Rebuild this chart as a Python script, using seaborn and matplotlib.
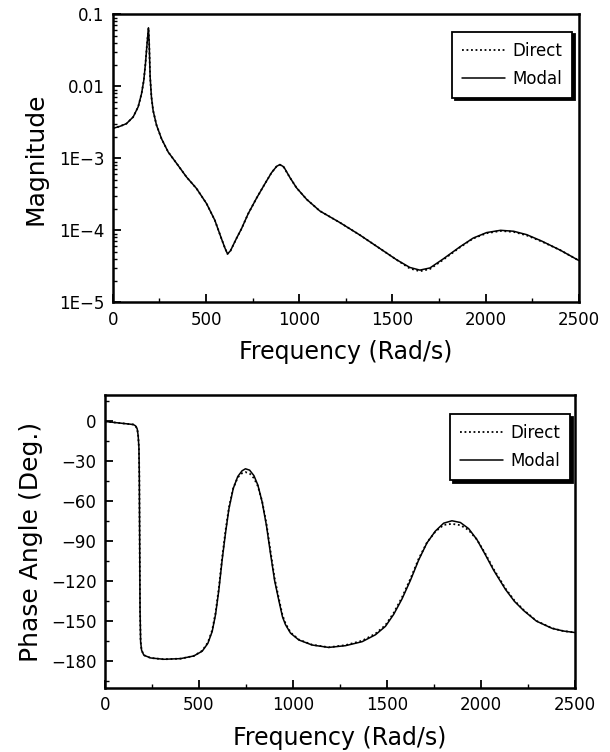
import numpy as np
import pandas as pd
import seaborn as sns
import matplotlib.pyplot as plt
from matplotlib.ticker import MultipleLocator, LogLocator, NullFormatter

# magnitude curve
mag_freq = [0, 38, 73, 109, 136, 154, 166, 175, 182, 191,
            195, 200, 207, 216, 234, 261, 297, 342, 395, 449,
            503, 547, 583, 601, 615, 631, 664, 690, 726, 771,
            815, 851, 878, 896, 917, 950, 985, 1039, 1111, 1218,
            1325, 1432, 1522, 1593, 1647, 1701, 1772, 1862, 1933, 2005,
            2080, 2150, 2220, 2300, 2400, 2500]
mag_modal = [2.6e-3, 2.78e-3, 3.03e-3, 3.75e-3, 5.2e-3, 7.9e-3, 1.21e-2, 2.07e-2, 3.5e-2, 6.5e-2,
             3.9e-2, 1.35e-2, 7.1e-3, 4.6e-3, 2.9e-3, 1.87e-3, 1.22e-3, 8.5e-4, 5.5e-4, 3.8e-4,
             2.34e-4, 1.38e-4, 7.6e-5, 5.7e-5, 4.7e-5, 5.2e-5, 7.8e-5, 1.05e-4, 1.7e-4, 2.8e-4,
             4.4e-4, 6.3e-4, 7.7e-4, 8.2e-4, 7.6e-4, 5.4e-4, 3.9e-4, 2.7e-4, 1.85e-4, 1.28e-4,
             8.6e-5, 5.6e-5, 3.9e-5, 3.05e-5, 2.8e-5, 3.0e-5, 4.0e-5, 5.9e-5, 7.8e-5, 9.3e-5,
             1.0e-4, 9.7e-5, 8.7e-5, 7.1e-5, 5.3e-5, 3.8e-5]
mag_direct = [2.6e-3, 2.78e-3, 3.03e-3, 3.75e-3, 5.2e-3, 7.9e-3, 1.21e-2, 2.07e-2, 3.5e-2, 6.5e-2,
              3.9e-2, 1.35e-2, 7.1e-3, 4.6e-3, 2.9e-3, 1.87e-3, 1.22e-3, 8.5e-4, 5.5e-4, 3.8e-4,
              2.34e-4, 1.38e-4, 7.6e-5, 5.7e-5, 4.7e-5, 5.2e-5, 7.8e-5, 1.05e-4, 1.7e-4, 2.8e-4,
              4.4e-4, 6.3e-4, 7.7e-4, 8.1e-4, 7.5e-4, 5.4e-4, 3.9e-4, 2.7e-4, 1.85e-4, 1.28e-4,
              8.6e-5, 5.6e-5, 3.9e-5, 2.95e-5, 2.7e-5, 2.9e-5, 3.9e-5, 5.8e-5, 7.7e-5, 9.1e-5,
              9.8e-5, 9.5e-5, 8.5e-5, 7.0e-5, 5.3e-5, 3.8e-5]

# phase curve
ph_freq = [0, 66, 119, 151, 163, 172, 177, 181, 183, 185,
           187, 190, 195, 207, 243, 314, 403, 473, 518, 548,
           571, 589, 606, 624, 642, 660, 683, 707, 730, 748,
           770, 793, 814, 837, 860, 881, 903, 926, 945, 961,
           988, 1032, 1103, 1191, 1280, 1369, 1440, 1493, 1537, 1581,
           1626, 1670, 1714, 1759, 1803, 1847, 1892, 1936, 1980, 2025,
           2069, 2132, 2180, 2230, 2297, 2380, 2440, 2500]
ph_modal = [0, -1.0, -1.8, -2.3, -3.3, -5.6, -10.7, -19.7, -40, -91,
            -142, -165, -171.5, -175.3, -177.4, -178.4, -177.9, -175.9, -172.3, -166.4,
            -157.5, -144.7, -126.9, -103.9, -83.5, -65.6, -50.3, -41.3, -37, -35.5,
            -36.5, -40.6, -47.7, -60.5, -78.3, -98.8, -119.2, -134.5, -146.5, -152.4,
            -158.8, -163.9, -167.7, -169.5, -168.2, -165.2, -160, -153.7, -144.7, -133.2,
            -119.2, -103.9, -91.1, -82.2, -76.3, -74.5, -75.8, -80.4, -88.6, -100,
            -111.6, -126, -135, -142, -149.8, -155.2, -157.2, -158.3]
ph_direct = [0, -1.0, -1.8, -2.3, -3.3, -5.6, -10.7, -19.7, -40, -91,
             -142, -165, -171.5, -175.3, -177.4, -178.4, -177.9, -175.9, -172.0, -165.8,
             -156.5, -143.3, -125.2, -102, -81.8, -64.5, -50, -42, -38.8, -38,
             -39, -42.5, -48.5, -60, -77, -97, -117.5, -133, -145.3, -151.5,
             -158.3, -163.6, -167.5, -169.4, -167.8, -164.5, -159.2, -152.8, -143.6, -132,
             -118, -103, -90.8, -82.6, -77.6, -76.8, -77.8, -81.5, -88.6, -99.2,
             -110.8, -125.3, -134.4, -141.6, -149.6, -155.1, -157.2, -158.3]

sns.set_style("white")
plt.rcParams['font.family'] = ['DejaVu Sans']
plt.rcParams['text.color'] = 'black'
plt.rcParams['axes.labelcolor'] = 'black'
plt.rcParams['xtick.color'] = 'black'
plt.rcParams['ytick.color'] = 'black'

fig = plt.figure(figsize=(6.1, 7.52), dpi=100)
ax1 = fig.add_axes([0.185, 0.598, 0.764, 0.383])
ax2 = fig.add_axes([0.172, 0.085, 0.770, 0.390])

# --- magnitude ---
sns.lineplot(x=mag_freq, y=mag_direct, ax=ax1, color='black', lw=1.3,
             linestyle=(0, (1, 1.5)), label='Direct', sort=True)
sns.lineplot(x=mag_freq, y=mag_modal, ax=ax1, color='black', lw=1.1,
             label='Modal', sort=True)
ax1.set_yscale('log')
ax1.set_xlim(0, 2500)
ax1.set_ylim(1e-5, 0.1)
ax1.set_yticks([1e-5, 1e-4, 1e-3, 1e-2, 1e-1], ['1E\u22125', '1E\u22124', '1E\u22123', '0.01', '0.1'])
ax1.yaxis.set_minor_locator(LogLocator(base=10, subs=np.arange(2, 10)))
ax1.yaxis.set_minor_formatter(NullFormatter())
ax1.xaxis.set_major_locator(MultipleLocator(500))
ax1.xaxis.set_minor_locator(MultipleLocator(250))
ax1.set_xlabel('Frequency (Rad/s)', fontsize=17, labelpad=8)
ax1.set_ylabel('Magnitude', fontsize=18, labelpad=8)

# --- phase ---
sns.lineplot(x=ph_freq, y=ph_direct, ax=ax2, color='black', lw=1.3,
             linestyle=(0, (1, 1.5)), label='Direct', sort=True)
sns.lineplot(x=ph_freq, y=ph_modal, ax=ax2, color='black', lw=1.1,
             label='Modal', sort=True)
ax2.set_xlim(0, 2500)
ax2.set_ylim(-200, 20)
ax2.yaxis.set_major_locator(MultipleLocator(30))
ax2.yaxis.set_minor_locator(MultipleLocator(15))
ax2.xaxis.set_major_locator(MultipleLocator(500))
ax2.xaxis.set_minor_locator(MultipleLocator(250))
ax2.set_yticks([0, -30, -60, -90, -120, -150, -180])
ax2.set_xlabel('Frequency (Rad/s)', fontsize=17, labelpad=8)
ax2.set_ylabel('Phase Angle (Deg.)', fontsize=18, labelpad=6)

for ax, anchor in [(ax1, (0.985, 0.94)), (ax2, (0.99, 0.935))]:
    for s in ax.spines.values():
        s.set_linewidth(1.8)
        s.set_color('black')
    ax.tick_params(which='major', direction='in', length=6, width=1.3,
                   labelsize=12, top=False, right=False, left=True, bottom=True, pad=6)
    ax.tick_params(which='minor', direction='in', length=3, width=1.0,
                   top=False, right=False, left=True, bottom=True)
    leg = ax.legend(loc='upper right', bbox_to_anchor=anchor, borderaxespad=0,
                    fancybox=False, shadow={'color': 'black', 'alpha': 1},
                    fontsize=12, handlelength=2.6, handletextpad=0.4,
                    borderpad=0.6, labelspacing=0.6)
    leg.get_frame().set_edgecolor('black')
    leg.get_frame().set_linewidth(1.3)

fig.savefig('out.png', dpi=100)
